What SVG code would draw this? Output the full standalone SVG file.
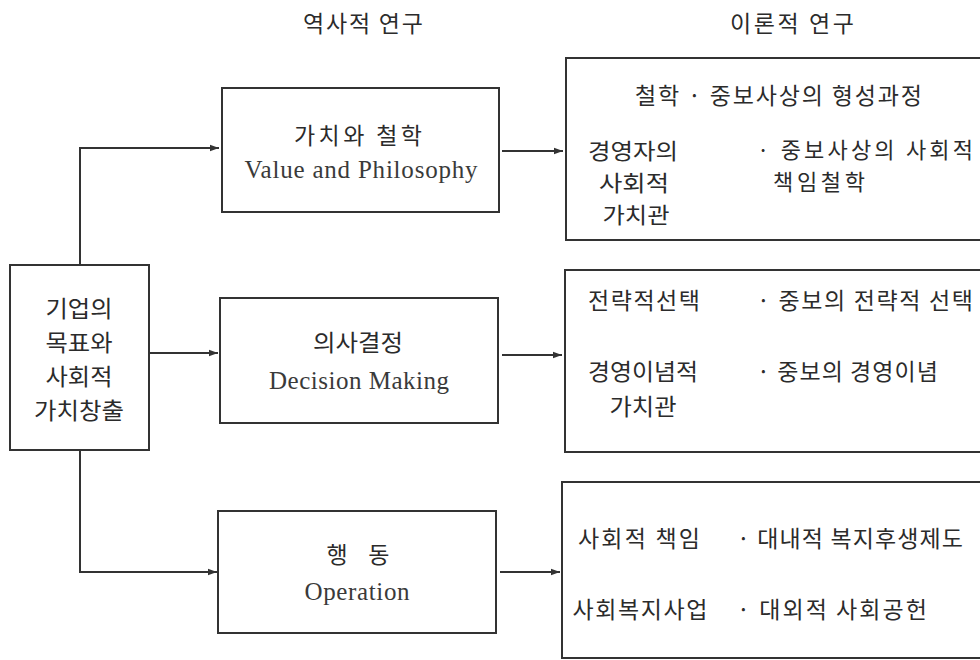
<svg xmlns="http://www.w3.org/2000/svg" width="980" height="660" viewBox="0 0 980 660">
  <defs>
    <marker id="arrow" markerUnits="userSpaceOnUse" markerWidth="10" markerHeight="8" refX="9" refY="4" orient="auto">
      <path d="M0,0.8 L9,4 L0,7.2 Z" fill="#333"/>
    </marker>
  </defs>
  <style>
    .box { fill: #ffffff; stroke: #333; stroke-width: 2; }
    .conn { fill: none; stroke: #333; stroke-width: 2; }
    .arr { marker-end: url(#arrow); }
    text { fill: #2b2b2b; font-family: "Liberation Serif", "Noto Sans CJK KR", serif; }
    .ko { font-family: "Noto Sans CJK KR", "Liberation Serif", sans-serif; font-size: 23px; font-weight: 400; }
    .ks { font-size: 22px; }
    .en { font-family: "Liberation Serif", serif; font-size: 25px; fill: #3a3a3a; }
    .mid { text-anchor: middle; }
  </style>
  <rect width="980" height="660" fill="#ffffff"/>

  <g id="headers">
    <text class="ko mid" x="363" y="32" textLength="120" lengthAdjust="spacing">역사적 연구</text>
    <text class="ko mid" x="792" y="32" textLength="124" lengthAdjust="spacing">이론적 연구</text>
  </g>

  <g id="connectors">
    <polyline class="conn arr" points="80,265 80,148 219,148"/>
    <line class="conn arr" x1="149" y1="353" x2="218" y2="353"/>
    <polyline class="conn arr" points="80,450 80,572 217,572"/>
    <line class="conn arr" x1="502" y1="151" x2="563" y2="151"/>
    <line class="conn arr" x1="502" y1="355" x2="562" y2="355"/>
    <line class="conn arr" x1="500" y1="572" x2="560" y2="572"/>
  </g>

  <g id="goal">
    <rect class="box" x="10" y="265" width="139" height="185"/>
    <text class="ko mid" x="79" y="317" textLength="67" lengthAdjust="spacingAndGlyphs">기업의</text>
    <text class="ko mid" x="79" y="351" textLength="67" lengthAdjust="spacingAndGlyphs">목표와</text>
    <text class="ko mid" x="79" y="385" textLength="67" lengthAdjust="spacingAndGlyphs">사회적</text>
    <text class="ko mid" x="79" y="419" textLength="90" lengthAdjust="spacingAndGlyphs">가치창출</text>
  </g>

  <g id="value">
    <rect class="box" x="222" y="88" width="277" height="124"/>
    <text class="ko mid" x="358" y="144" textLength="128" lengthAdjust="spacing">가치와 철학</text>
    <text class="en mid" x="361" y="178" textLength="233" lengthAdjust="spacing">Value and Philosophy</text>
  </g>

  <g id="decision">
    <rect class="box" x="220" y="298" width="278" height="125"/>
    <text class="ko mid" x="358" y="351" textLength="90" lengthAdjust="spacingAndGlyphs">의사결정</text>
    <text class="en mid" x="359" y="389" textLength="180" lengthAdjust="spacing">Decision Making</text>
  </g>

  <g id="operation">
    <rect class="box" x="218" y="511" width="278" height="122"/>
    <text class="ko mid" x="358" y="563" textLength="63" lengthAdjust="spacing">행   동</text>
    <text class="en mid" x="357" y="600" textLength="105" lengthAdjust="spacing">Operation</text>
  </g>

  <g id="theory1">
    <rect class="box" x="566" y="58" width="420" height="182"/>
    <text class="ko" x="635" y="104" textLength="287" lengthAdjust="spacing">철학 · 중보사상의 형성과정</text>
    <text class="ko ks mid" x="633" y="159" textLength="90" lengthAdjust="spacingAndGlyphs">경영자의</text>
    <text class="ko ks mid" x="634" y="191" textLength="70" lengthAdjust="spacingAndGlyphs">사회적</text>
    <text class="ko ks mid" x="636" y="223" textLength="67" lengthAdjust="spacingAndGlyphs">가치관</text>
    <text class="ko ks" x="757" y="158" textLength="216" lengthAdjust="spacing">· 중보사상의  사회적</text>
    <text class="ko ks" x="773" y="190" textLength="92" lengthAdjust="spacing">책임철학</text>
  </g>

  <g id="theory2">
    <rect class="box" x="565" y="270" width="420" height="182"/>
    <text class="ko mid" x="644" y="309" textLength="112" lengthAdjust="spacing">전략적선택</text>
    <text class="ko" x="757" y="309" textLength="216" lengthAdjust="spacing">· 중보의 전략적 선택</text>
    <text class="ko mid" x="643" y="380" textLength="110" lengthAdjust="spacingAndGlyphs">경영이념적</text>
    <text class="ko mid" x="643" y="415" textLength="67" lengthAdjust="spacingAndGlyphs">가치관</text>
    <text class="ko" x="757" y="380" textLength="181" lengthAdjust="spacing">· 중보의 경영이념</text>
  </g>

  <g id="theory3">
    <rect class="box" x="562" y="482" width="424" height="176"/>
    <text class="ko mid" x="639" y="547" textLength="122" lengthAdjust="spacing">사회적 책임</text>
    <text class="ko" x="737" y="547" textLength="226" lengthAdjust="spacing">· 대내적 복지후생제도</text>
    <text class="ko mid" x="640" y="618" textLength="135" lengthAdjust="spacing">사회복지사업</text>
    <text class="ko" x="737" y="618" textLength="190" lengthAdjust="spacing">· 대외적 사회공헌</text>
  </g>
</svg>
